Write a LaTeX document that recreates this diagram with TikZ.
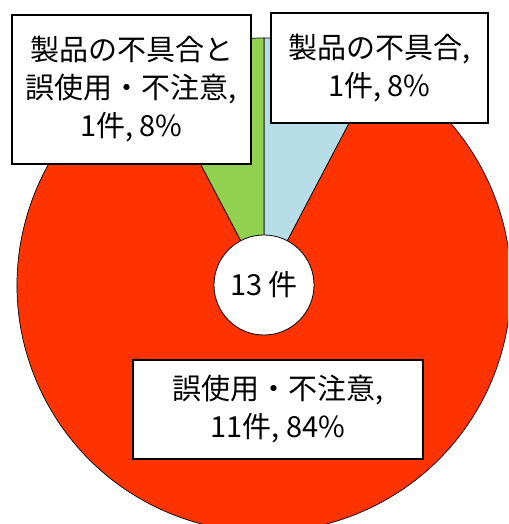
\documentclass[tikz,border=0pt]{standalone}
\usepackage{fontspec}
\setmainfont{Noto Sans CJK JP}
\usepackage{tikz, xcolor}
\usetikzlibrary{shapes,arrows}
\definecolor{sliceRed}{HTML}{FF3300}
\definecolor{sliceBlue}{HTML}{B7DEE8}
\definecolor{sliceGreen}{HTML}{92D050}

\begin{document}
\begin{tikzpicture}[x=1pt, y=1pt]
\tikzstyle{labelbox}=[rectangle, draw=black, line width=1.2pt, fill=white, align=center, inner sep=2pt, font=\fontsize{29}{38}\selectfont]
\tikzstyle{slicestyle}=[draw=black, line width=0.7pt]
\tikzstyle{holestyle}=[circle, draw=black, line width=0.8pt, fill=white, minimum size=100pt, inner sep=0pt, font=\fontsize{29}{38}\selectfont]

\useasboundingbox (0,0) rectangle (508,524);
\clip (0,0) rectangle (508,524);
\coordinate (P0) at (264,239);
\fill[sliceRed, slicestyle] (P0) -- ++(117.69:247) arc[start angle=117.69, end angle=422.31, radius=247] -- cycle;
\fill[sliceBlue, slicestyle] (P0) -- ++(62.31:247) arc[start angle=62.31, end angle=90, radius=247] -- cycle;
\fill[sliceGreen, slicestyle] (P0) -- ++(90:247) arc[start angle=90, end angle=117.69, radius=247] -- cycle;
\node[holestyle] (C0) at (P0) {13 件};
\node[labelbox, minimum width=239pt, minimum height=149pt] (B0) at (131.5,434.5) {製品の不具合と\\誤使用・不注意,\\1件, 8\%};
\node[labelbox, minimum width=217pt, minimum height=110pt] (B1) at (379.5,456) {製品の不具合,\\1件, 8\%};
\node[labelbox, minimum width=290pt, minimum height=99pt] (B2) at (278,114.5) {誤使用・不注意,\\11件, 84\%};
\end{tikzpicture}
\end{document}
